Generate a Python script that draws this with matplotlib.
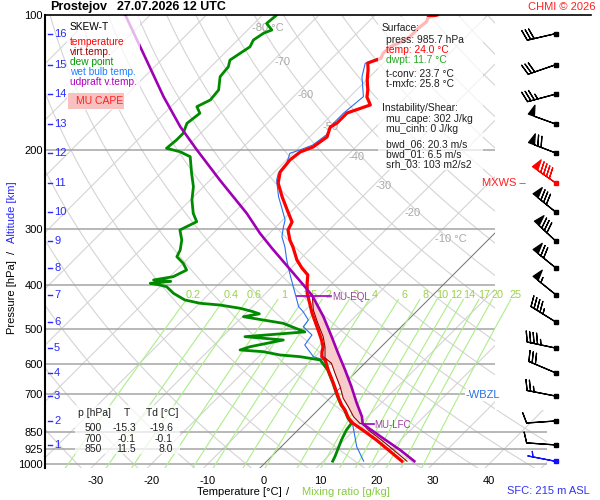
import numpy as np
import matplotlib
matplotlib.use('Agg')
import matplotlib.pyplot as plt
from matplotlib.patches import Rectangle
from matplotlib.lines import Line2D

plt.rcParams['font.family'] = ['Liberation Sans', 'DejaVu Sans']
plt.rcParams['axes.unicode_minus'] = False

# ---- sounding data ----
T_P = [985.7, 884.2, 840.0, 827.4, 811.7, 791.1, 758.1, 738.9, 708.0, 661.0, 617.4, 586.5,
       576.7, 562.9, 548.8, 529.5, 502.8, 461.0, 416.1, 395.1, 379.3, 365.9, 351.2, 328.7,
       317.0, 301.2, 289.1, 271.8, 254.3, 236.7, 223.7, 210.4, 201.9, 196.8, 186.9, 177.6,
       174.0, 165.3, 158.6, 152.3, 146.9, 139.5, 132.6, 127.9, 124.9, 121.7, 117.7, 114.7,
       111.8, 107.1, 103.5, 101.2, 100.0]
T_C = [24.0, 15.7, 11.5, 10.2, 8.6, 6.9, 4.8, 3.3, 1.2, -2.0, -5.3, -7.6,
       -8.8, -9.6, -10.3, -11.8, -14.2, -18.3, -22.7, -24.5, -25.8, -28.1, -30.4, -33.4,
       -35.2, -37.3, -38.0, -41.0, -44.2, -47.4, -49.0, -49.4, -49.0, -47.6, -46.9, -48.1,
       -47.6, -47.6, -44.9, -46.9, -48.0, -49.9, -51.5, -52.8, -51.3, -51.8, -51.7, -50.6,
       -50.0, -50.0, -49.7, -50.2, -49.0]

TV_P = [985.7, 884.2, 840.0, 814.0, 811.7, 784.6, 745.5, 713.9, 672.8, 628.1, 596.7, 580.6,
        548.0, 520.6, 485.3, 453.9, 422.0]
TV_C = [24.9, 16.6, 12.5, 10.4, 9.8, 7.5, 4.8, 2.4, -0.2, -3.5, -5.9, -8.0,
        -10.0, -12.1, -15.5, -18.6, -21.3]

TD_P = [985.7, 963.2, 884.2, 840.1, 811.7, 791.1, 758.1, 738.9, 708.0, 661.0, 617.4, 586.5,
        576.7, 571.8, 562.2, 557.3, 548.0, 529.5, 520.5, 508.0, 486.0, 477.9, 469.9, 463.0,
        457.9, 450.0, 442.5, 438.6, 431.2, 416.7, 402.8, 399.0, 395.9, 392.0, 389.2, 382.7,
        369.8, 357.3, 345.4, 333.7, 317.0, 301.2, 288.6, 276.5, 258.2, 241.2, 225.2, 206.8,
        201.6, 198.1, 189.8, 183.4, 174.3, 165.5, 160.0, 154.6, 146.9, 137.2, 130.4, 126.0,
        121.7, 117.7, 113.7, 109.8, 108.0, 104.4, 100.0]
TD_C = [11.7, 11.3, 9.5, 8.6, 8.3, 6.8, 4.7, 3.2, 1.1, -2.1, -5.4, -8.5,
        -12.7, -16.5, -20.1, -24.5, -23.3, -18.6, -26.0, -16.2, -21.6, -25.7, -29.8, -27.5,
        -29.0, -31.9, -36.1, -39.9, -43.2, -46.4, -48.8, -50.5, -52.3, -49.0, -52.3, -49.4,
        -48.2, -50.0, -52.3, -52.9, -54.4, -56.5, -55.0, -57.1, -59.7, -61.8, -64.5, -67.7,
        -70.4, -73.4, -73.1, -73.1, -74.2, -73.7, -75.4, -74.2, -74.5, -76.6, -76.9, -77.8,
        -77.2, -76.6, -77.2, -76.6, -75.7, -77.8, -77.5]

WB_P = [985.7, 915.1, 869.4, 826.0, 811.7, 791.1, 758.1, 708.0, 661.0, 617.4, 586.5, 581.5,
        576.7, 543.2, 516.0, 494.6, 477.9, 457.9, 446.3, 431.2, 402.8, 376.1, 351.3, 328.1,
        311.7, 296.1, 286.1, 267.3, 253.9, 233.1, 225.2, 213.9, 203.2, 199.8, 194.8, 185.0,
        174.3, 165.5, 152.0, 137.2, 128.1, 124.9]
WB_C = [17.2, 13.4, 11.3, 9.2, 8.5, 6.8, 4.7, 1.1, -2.1, -5.4, -7.9, -9.1,
        -10.3, -13.9, -14.4, -17.4, -17.7, -20.1, -21.8, -23.3, -26.3, -29.3, -32.2, -34.9,
        -37.2, -38.7, -39.6, -42.6, -44.9, -48.2, -49.1, -49.4, -50.6, -49.4, -48.0, -47.4,
        -48.2, -48.2, -47.6, -51.4, -53.2, -51.8]

UP_P = [985.7, 930.8, 876.6, 814.0, 784.6, 732.5, 672.7, 617.4, 566.8, 520.5, 469.9, 422.0,
        399.3, 330.8, 306.3, 276.5, 233.1, 199.8, 177.3, 152.0, 121.7, 100.0]
UP_C = [26.2, 21.7, 16.6, 10.4, 9.0, 5.7, 1.8, -2.3, -6.5, -10.6, -15.6, -21.3,
        -24.8, -36.9, -41.7, -47.6, -58.3, -67.7, -74.8, -83.1, -94.4, -104.4]

LFC_P, LFC_T = 814.0, 10.4
EQL_P, EQL_T = 422.0, -21.3
WBZL_P = 703.0

# altitude levels (km) and winds at those levels
KM = [16, 15, 14, 13, 12, 11, 10, 9, 8, 7, 6, 5, 4, 3, 2, 1]
KM_P = [110, 129, 150, 175, 203, 237, 275, 319, 366, 420, 483, 552, 627, 706, 802, 907]
WDIR = [257, 251, 255, 290, 291, 305, 309, 313, 309, 309, 302, 282, 293, 281, 266, 274]
WSPD = [30, 30, 35, 50, 70, 90, 80, 80, 70, 55, 45, 45, 30, 25, 10, 10]
MXWS_KM = 11
SFC_P, SFC_DIR, SFC_SPD = 985.7, 281, 5

P_TICKS = [100, 200, 300, 400, 500, 600, 700, 850, 925, 1000]
T_TICKS = [-30, -20, -10, 0, 10, 20, 30, 40]
MIX_W = [0.2, 0.4, 0.6, 1, 1.5, 2, 3, 4, 6, 8, 10, 12, 14, 17, 20, 25]
MIX_LBL = ['0.2', '0.4', '0.6', '1', '1.5', '2', '3', '4', '6', '8', '10', '12', '14', '17', '20', '25']
ISO_LBL_T = [-80, -70, -60, -50, -40, -30, -20, -10]
ISO_LBL_P = [106.9, 127.3, 150.6, 177.6, 207.0, 240.7, 276.1, 315.9]

TAB_P = [500, 700, 850]
TAB_T = [-15.3, -0.1, 11.5]
TAB_TD = [-19.6, -0.1, 8.0]

SURF = [("Surface:", '#202020', 382), ("press: 985.7 hPa", '#202020', 386),
        ("temp: 24.0 °C", '#ff0000', 386), ("dwpt: 11.7 °C", '#22aa22', 386),
        ("t-conv: 23.7 °C", '#202020', 386), ("t-mxfc: 25.8 °C", '#202020', 386),
        ("Instability/Shear:", '#202020', 382), ("mu_cape: 302 J/kg", '#202020', 386),
        ("mu_cinh: 0 J/kg", '#202020', 386), ("bwd_06: 20.3 m/s", '#202020', 386),
        ("bwd_01: 6.5 m/s", '#202020', 386), ("srh_03: 103 m2/s2", '#202020', 386)]
SURF_Y = [27.7, 40, 50, 60, 74, 84, 107.7, 119.3, 129.3, 144.3, 154.3, 164.3]

LEGEND = [("SKEW-T", 'black'), ("temperature", '#ff0000'), ("virt.temp.", '#a00000'),
          ("dew point", '#009900'), ("wet bulb temp.", '#2080ff'), ("udpraft v.temp.", '#b000c0')]
LEGEND_Y = [26.7, 42.3, 52.3, 62.3, 72.3, 82.3]

# ---- geometry ----
W, H = 600, 500
P_TOP, P_BOT = 100.0, 1020.8
X_LEFT, X_RIGHT = -38.9, 50.27
SKEW = 34.64   # 45 degree isotherms


def fx(px):
    return px / W


def fy(py):
    return 1 - py / H


def skx(t, p):
    return np.asarray(t, float) + SKEW * np.log(1000.0 / np.asarray(p, float))


def mix_t(w, p):
    e = w * p / (622.0 + w)
    a = np.log(e / 6.112)
    return 243.5 * a / (17.67 - a)


fig = plt.figure(figsize=(6, 5), dpi=100)
fig.patch.set_facecolor('white')
ax = fig.add_axes([fx(45), fy(468), (547 - 45) / W, (468 - 15) / H])
ax.set_yscale('log')
ax.set_ylim(P_BOT, P_TOP)
ax.set_xlim(X_LEFT, X_RIGHT)
ax.set_facecolor('white')

# grid: isotherms, dry adiabats, isobars
pg = np.geomspace(P_TOP, P_BOT, 80)
for t in range(-130, 60, 10):
    ax.plot(skx(t, pg), pg, color='#d4d4d4', lw=0.8, zorder=1)
ax.plot(skx(0, pg), pg, color='#707070', lw=0.6, zorder=1.2)
for th in range(230, 490, 10):
    ax.plot(skx(th * (pg / 1000.0) ** 0.2857 - 273.15, pg), pg, color='#d4d4d4', lw=0.8, zorder=1)
for p in P_TICKS[1:]:
    ax.axhline(p, color='#a4a4a4', lw=1.1, zorder=1.1)

# blank column behind the wind barbs
ax.add_patch(Rectangle(((495 - 45) / 502, (468 - 410) / 453), 0.2, 1.0, transform=ax.transAxes,
                       facecolor='white', edgecolor='none', zorder=1.5))

# mixing ratio lines
pm = np.geomspace(430, P_BOT, 30)
for w, lbl in zip(MIX_W, MIX_LBL):
    ax.plot(skx(mix_t(w, pm), pm), pm, color='#acee88', lw=0.8, zorder=1.8)
    ax.text(skx(mix_t(w, 410), 410), 420.4, lbl, ha='center', va='center',
            color='#9ad24a', fontsize=7.8, zorder=1.9)

for t, p in zip(ISO_LBL_T, ISO_LBL_P):
    s = f"{t} °C" if t in (-80, -10) else f"{t}"
    ax.text(skx(t, p) + 0.45, p, s, ha='left', va='center', color='#a8a8a8', fontsize=8, zorder=1.9)

# CAPE area between updraft and virtual temperature
up_p = np.array(UP_P); up_t = np.array(UP_C)
tv_p = np.array(TV_P); tv_t = np.array(TV_C)
su = (up_p <= LFC_P) & (up_p >= EQL_P)
sv = (tv_p <= LFC_P) & (tv_p >= EQL_P)
poly_x = np.concatenate([skx(up_t[su], up_p[su]), skx(tv_t[sv], tv_p[sv])[::-1]])
poly_p = np.concatenate([up_p[su], tv_p[sv][::-1]])
ax.fill(poly_x, poly_p, color='#f9cccc', lw=0, zorder=2)

# profiles
ax.plot(skx(WB_C, WB_P), WB_P, color='#2a70f0', lw=0.8, zorder=3)
ax.plot(skx(TD_C, TD_P), TD_P, color='#008a00', lw=2.0, zorder=3.5)
ax.plot(skx(T_C, T_P), T_P, color='#ff0000', lw=2.3, zorder=4)
ax.plot(skx(TV_C, TV_P), TV_P, color='#900000', lw=0.8, zorder=4.5)
ax.plot(skx(UP_C, UP_P), UP_P, color='#a000b4', lw=1.9, zorder=5)

# LFC / EQL markers
ax.plot([skx(LFC_T, LFC_P), skx(LFC_T, LFC_P) + 2.0], [LFC_P, LFC_P], color='#a000b4', lw=1.2, zorder=5)
ax.text(skx(LFC_T, LFC_P) + 2.1, LFC_P * 1.005, "MU-LFC", color='#a040a0', fontsize=7,
        va='center', ha='left', zorder=6)
ax.plot([skx(EQL_T, EQL_P) - 2.8, skx(EQL_T, EQL_P) + 3.4], [EQL_P, EQL_P], color='#a000b4', lw=1.2, zorder=5)
ax.text(skx(EQL_T, EQL_P) + 3.5, EQL_P * 1.004, "MU-EQL", color='#a040a0', fontsize=7,
        va='center', ha='left', zorder=6)

# axes styling
for side in ('top', 'right', 'bottom'):
    ax.spines[side].set_visible(False)
ax.spines['left'].set_linewidth(1.5)
ax.set_yticks(P_TICKS)
ax.set_yticklabels([str(p) for p in P_TICKS])
ax.yaxis.set_minor_locator(matplotlib.ticker.NullLocator())
ax.set_xticks(T_TICKS)
ax.set_xticklabels([str(t) for t in T_TICKS])
ax.tick_params(axis='y', length=0, pad=1.5, labelsize=8)
ax.tick_params(axis='x', length=0, pad=6, labelsize=8)

# altitude scale
ytr = ax.get_yaxis_transform()
for km, p in zip(KM, KM_P):
    ax.plot([0.0054, 0.0145], [p, p], color='#2828ff', lw=1.0, transform=ytr, zorder=6, clip_on=False)
    ax.text(0.018, p, str(km), color='#2828ff', fontsize=8, va='center', ha='left',
            transform=ytr, zorder=6)

# WBZL label
ax.text((466 - 45) / 502, WBZL_P, "-WBZL", color='#2a70e0', fontsize=8, va='center', ha='left',
        transform=ytr, zorder=6,
        bbox=dict(facecolor='white', edgecolor='none', pad=0.6))

# wind barbs
axb = fig.add_axes([fx(495), fy(468), (600 - 495) / W, (468 - 15) / H])
axb.set_yscale('log')
axb.set_ylim(P_BOT, P_TOP)
axb.set_xlim(0, 1)
axb.axis('off')
axb.patch.set_alpha(0)
xs = 0.58
d = np.radians(WDIR); s = np.array(WSPD, float)
u = -s * np.sin(d); v = -s * np.cos(d)
kmp = np.array(KM_P, float)
red = np.array([k == MXWS_KM for k in KM])
bkw = dict(length=6.5, linewidth=0.9, sizes=dict(spacing=0.12, height=0.36, width=0.22), clip_on=False)
axb.barbs(np.full((~red).sum(), xs), kmp[~red], u[~red], v[~red], color='black', **bkw)
axb.barbs(np.full(red.sum(), xs), kmp[red], u[red], v[red], color='#ff0000', **bkw)
sd = np.radians(SFC_DIR)
axb.barbs([xs], [SFC_P], [-SFC_SPD * np.sin(sd)], [-SFC_SPD * np.cos(sd)], color='#1010ff', **bkw)
axb.plot(np.full(len(KM), xs)[~red], kmp[~red], 's', color='black', ms=2.8, clip_on=False)
axb.plot(np.full(red.sum(), xs), kmp[red], 's', color='#ff0000', ms=3.2, clip_on=False)
axb.plot([xs], [SFC_P], 's', color='#1010ff', ms=2.8, clip_on=False)
axb.text(-0.125, kmp[red][0], "MXWS \u2013", color='#ff2020', fontsize=8, va='center', ha='left',
         transform=axb.get_yaxis_transform())

# top border
fig.add_artist(Line2D([fx(45), fx(591)], [fy(15), fy(15)], color='black', lw=1.2))


# semi-transparent boxes
def box(x0, y0, x1, y1, color='white', alpha=0.72, z=1):
    fig.add_artist(Rectangle((fx(x0), fy(y1)), (x1 - x0) / W, (y1 - y0) / H, transform=fig.transFigure,
                             facecolor=color, alpha=alpha, edgecolor='none', zorder=z))


box(66.7, 16.5, 140, 110)
box(378, 16.5, 483, 170)
box(75, 405, 180, 454)
box(68, 93, 124, 108.5, color='#f9c0c0', alpha=1.0, z=2)

for (txt, col), y in zip(LEGEND, LEGEND_Y):
    fig.text(fx(70), fy(y), txt, color=col, fontsize=7.3, va='center', ha='left')
fig.text(fx(76), fy(101), "MU CAPE", color='#ff2020', fontsize=7.5, va='center', ha='left')

for (txt, col, x), y in zip(SURF, SURF_Y):
    fig.text(fx(x), fy(y), txt, color=col, fontsize=7.4, va='center', ha='left')

fig.text(fx(78), fy(413.3), "p [hPa]", fontsize=7.5, va='center', ha='left', color='#202020')
fig.text(fx(127), fy(413.3), "T", fontsize=7.5, va='center', ha='center', color='#202020')
fig.text(fx(146), fy(413.3), "Td [°C]", fontsize=7.5, va='center', ha='left', color='#202020')
for i, (p, t, td) in enumerate(zip(TAB_P, TAB_T, TAB_TD)):
    yy = 428.3 + 10.5 * i
    fig.text(fx(102), fy(yy), str(p), fontsize=7.5, va='center', ha='right', color='#202020')
    fig.text(fx(136), fy(yy), f"{t:.1f}", fontsize=7.5, va='center', ha='right', color='#202020')
    fig.text(fx(173), fy(yy), f"{td:.1f}", fontsize=7.5, va='center', ha='right', color='#202020')

# titles and axis labels
fig.text(fx(50), fy(7), "Prostejov", fontsize=9, fontweight='bold', va='center', ha='left')
fig.text(fx(117), fy(7), "27.07.2026 12 UTC", fontsize=9, fontweight='bold', va='center', ha='left')
fig.text(fx(595), fy(7), "CHMI © 2026", fontsize=8, color='#ff2020', va='center', ha='right')
fig.text(fx(197), fy(492), "Temperature [°C]", fontsize=8, va='center', ha='left')
fig.text(fx(286), fy(492), "/", fontsize=8, va='center', ha='left')
fig.text(fx(302), fy(492), "Mixing ratio [g/kg]", fontsize=8, va='center', ha='left', color='#88cc44')
fig.text(fx(590), fy(491), "SFC: 215 m ASL", fontsize=8, va='center', ha='right', color='#3333ee')
fig.text(fx(12), fy(297.5), "Pressure [hPa]", fontsize=8, rotation=90, va='center', ha='center')
fig.text(fx(12), fy(252), "/", fontsize=8, rotation=90, va='center', ha='center')
fig.text(fx(12), fy(212.5), "Altitude [km]", fontsize=8, rotation=90, va='center', ha='center', color='#2828ff')

fig.savefig('out.png', dpi=100)
